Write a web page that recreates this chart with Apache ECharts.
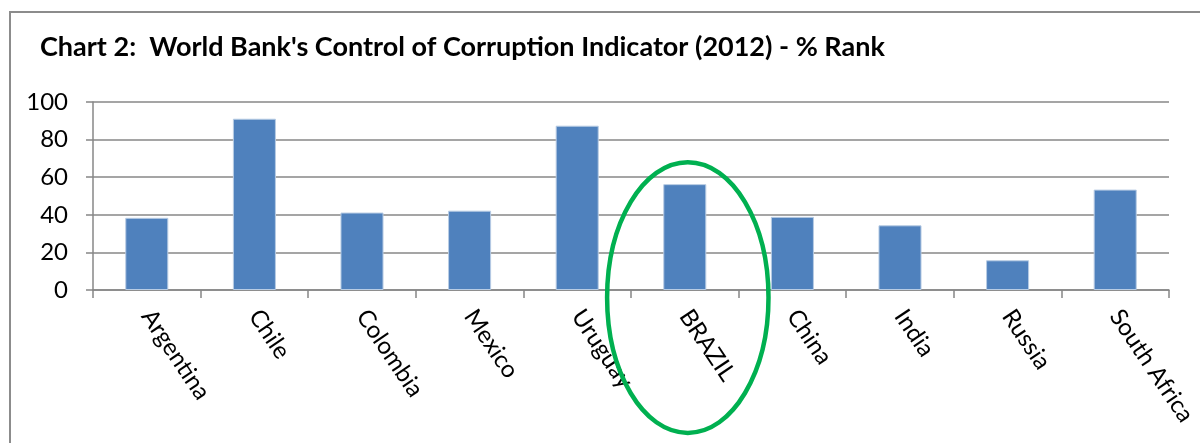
<!DOCTYPE html>
<html>
<head>
<meta charset="utf-8">
<script src="https://cdn.jsdelivr.net/npm/echarts@6/dist/echarts.min.js"></script>
<style>
  html, body { margin: 0; padding: 0; background: #fff; }
  #chart { width: 1200px; height: 443px; }
</style>
</head>
<body>
<div id="chart"></div>
<script>
const countries = ['Argentina', 'Chile', 'Colombia', 'Mexico', 'Uruguay', 'BRAZIL', 'China', 'India', 'Russia', 'South Africa']
const percentRank = [38.4, 91.1, 41.2, 42.2, 87.4, 56.3, 38.9, 34.4, 15.8, 53.4]
const yTicks = [0, 20, 40, 60, 80, 100]
const highlighted = 'BRAZIL'

const axisGray = '#878787'
const font = 'Lato, "Open Sans", sans-serif'

const chart = echarts.init(document.getElementById('chart'))

const option = {
  animation: false,
  title: {
    text: "Chart 2:  World Bank's Control of Corruption Indicator (2012) - % Rank",
    left: 35,
    top: 29,
    textStyle: { fontFamily: font, fontWeight: 'bold', fontSize: 27, color: '#000' },
  },
  grid: { left: 93, right: 31, top: 102, bottom: 153 },
  xAxis: {
    type: 'category',
    data: countries,
    axisLine: { lineStyle: { color: axisGray, width: 1.5 } },
    axisTick: { show: true, length: 8, lineStyle: { color: axisGray, width: 1.5 } },
    axisLabel: {
      rotate: -56,
      margin: 22,
      fontFamily: font,
      fontSize: 24,
      color: '#000',
    },
  },
  yAxis: {
    type: 'value',
    min: yTicks[0],
    max: yTicks[yTicks.length - 1],
    interval: 20,
    axisLine: { show: true, lineStyle: { color: axisGray, width: 1.5 } },
    axisTick: { show: true, length: 7, lineStyle: { color: axisGray, width: 1.5 } },
    splitLine: { lineStyle: { color: axisGray, width: 1.5 } },
    axisLabel: { margin: 25, fontFamily: font, fontSize: 24, color: '#000' },
  },
  series: [
    {
      type: 'bar',
      data: percentRank,
      barWidth: '40%',
      itemStyle: { color: '#4F81BD', borderColor: '#b8cce4', borderWidth: 1 },
    },
  ],
}
chart.setOption(option)

// frame and the green ring around Brazil
const ringCenter = chart.convertToPixel({ gridIndex: 0 }, [highlighted, -4])
const nextCat = chart.convertToPixel({ gridIndex: 0 }, [countries[countries.indexOf(highlighted) + 1], 0])
const ringTop = chart.convertToPixel({ gridIndex: 0 }, [highlighted, 68])
chart.setOption({
  graphic: [
    {
      type: 'rect',
      shape: { x: 10, y: 12, width: 1400, height: 600 },
      style: { fill: 'none', stroke: '#8c8c8c', lineWidth: 2 },
      silent: true,
    },
    {
      type: 'ellipse',
      shape: {
        cx: ringCenter[0] + 3,
        cy: ringCenter[1],
        rx: (nextCat[0] - ringCenter[0]) * 0.75,
        ry: ringCenter[1] - ringTop[1],
      },
      style: { fill: 'none', stroke: '#00B050', lineWidth: 4.5 },
      z: 100,
      silent: true,
    },
  ],
})
</script>
</body>
</html>
